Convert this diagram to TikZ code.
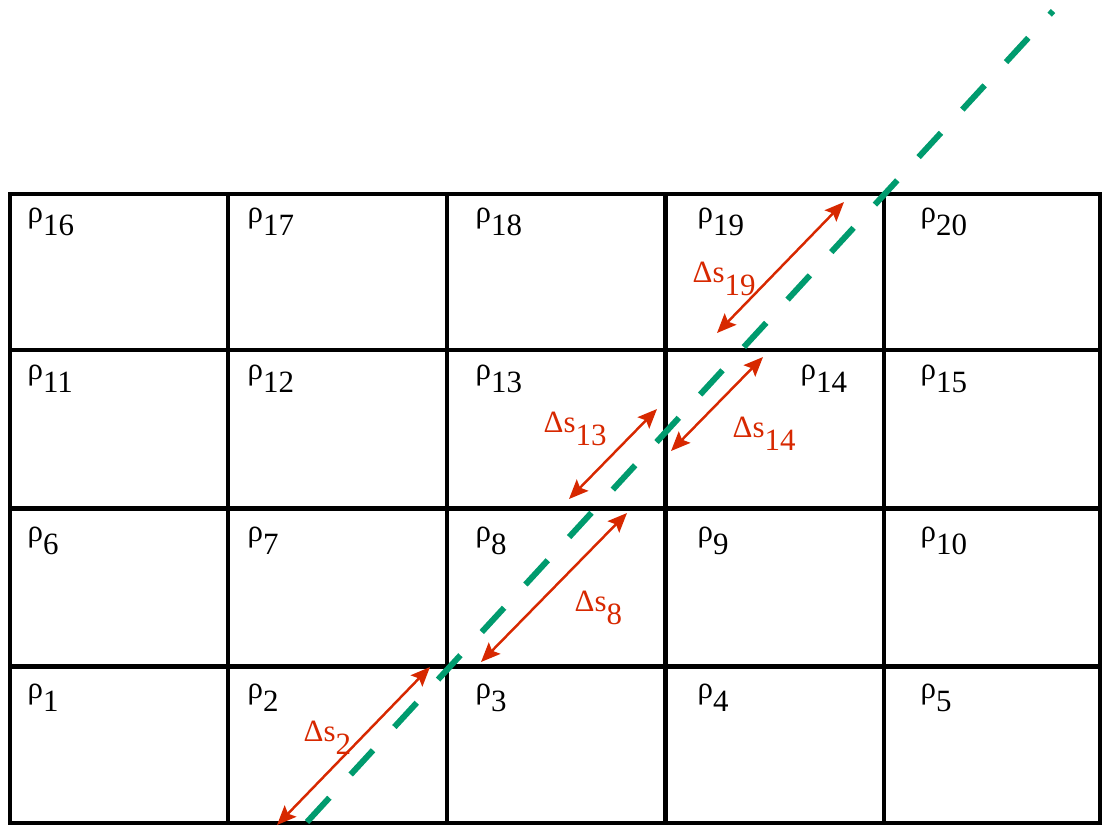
\documentclass[tikz,border=0pt]{standalone}
\usepackage{fontspec}
\setmainfont{Liberation Serif}
\usetikzlibrary{arrows.meta}
\definecolor{arrowred}{RGB}{215,40,0}
\definecolor{raygreen}{RGB}{0,155,110}
\newcommand{\lowsub}[1]{\raisebox{-0.43em}{#1}}
\begin{document}
\begin{tikzpicture}[x=0.01cm,y=-0.01cm,
  font=\fontsize{8.8}{10}\selectfont,
  gridline/.style={line width=1.35pt, line join=miter},
  rholabel/.style={anchor=north west, inner sep=0pt, text=black},
  dslabel/.style={anchor=north west, inner sep=0pt, text=arrowred},
  pathlen/.style={draw=arrowred, line width=0.7pt, {Stealth[length=5.5pt,width=4.6pt,inset=1pt]}-{Stealth[length=5.5pt,width=4.6pt,inset=1pt]}},
  ray/.style={draw=raygreen, line width=1.7pt, dash pattern=on 9.39pt off 8.96pt}]
\useasboundingbox (0,0) rectangle (1103,826);
% grid
\draw[gridline] (10,194) rectangle (1100,823);
\foreach \x in {228,447,665.5,884} \draw[gridline] (\x,194) -- (\x,823);
\foreach \y in {350,508.5,666.5} \draw[gridline] (10,\y) -- (1100,\y);
% rho labels
\node[rholabel] (r16) at (27,207) {ρ\lowsub{16}};
\node[rholabel] (r17) at (247,207) {ρ\lowsub{17}};
\node[rholabel] (r18) at (475,207) {ρ\lowsub{18}};
\node[rholabel] (r19) at (697,207) {ρ\lowsub{19}};
\node[rholabel] (r20) at (920,207) {ρ\lowsub{20}};
\node[rholabel] (r11) at (27,364) {ρ\lowsub{11}};
\node[rholabel] (r12) at (247,364) {ρ\lowsub{12}};
\node[rholabel] (r13) at (475,364) {ρ\lowsub{13}};
\node[rholabel] (r14) at (800,364) {ρ\lowsub{14}};
\node[rholabel] (r15) at (920,364) {ρ\lowsub{15}};
\node[rholabel] (r6) at (27,526) {ρ\lowsub{6}};
\node[rholabel] (r7) at (247,526) {ρ\lowsub{7}};
\node[rholabel] (r8) at (475,526) {ρ\lowsub{8}};
\node[rholabel] (r9) at (697,526) {ρ\lowsub{9}};
\node[rholabel] (r10) at (920,526) {ρ\lowsub{10}};
\node[rholabel] (r1) at (27,683) {ρ\lowsub{1}};
\node[rholabel] (r2) at (247,683) {ρ\lowsub{2}};
\node[rholabel] (r3) at (475,683) {ρ\lowsub{3}};
\node[rholabel] (r4) at (697,683) {ρ\lowsub{4}};
\node[rholabel] (r5) at (920,683) {ρ\lowsub{5}};
% ray
\coordinate (rayA) at (307,822);
\coordinate (rayB) at (1053,11);
\draw[ray] (rayA) -- (rayB);
% path-length arrows
\coordinate (a19t) at (844,202); \coordinate (a19b) at (717,333);
\coordinate (a14t) at (763,357); \coordinate (a14b) at (671,451);
\coordinate (a13t) at (657,409); \coordinate (a13b) at (569,499);
\coordinate (a8t) at (627,513);  \coordinate (a8b) at (481,662);
\coordinate (a2t) at (430,667);  \coordinate (a2b) at (277,825);
\draw[pathlen] (a19b) -- (a19t);
\draw[pathlen] (a14b) -- (a14t);
\draw[pathlen] (a13b) -- (a13t);
\draw[pathlen] (a8b) -- (a8t);
\draw[pathlen] (a2b) -- (a2t);
% delta s labels
\node[dslabel] (d19) at (692,261) {Δs\lowsub{19}};
\node[dslabel] (d13) at (543,411) {Δs\lowsub{13}};
\node[dslabel] (d14) at (732,416) {Δs\lowsub{14}};
\node[dslabel] (d8) at (574,590) {Δs\lowsub{8}};
\node[dslabel] (d2) at (303,720) {Δs\lowsub{2}};
\end{tikzpicture}
\end{document}
